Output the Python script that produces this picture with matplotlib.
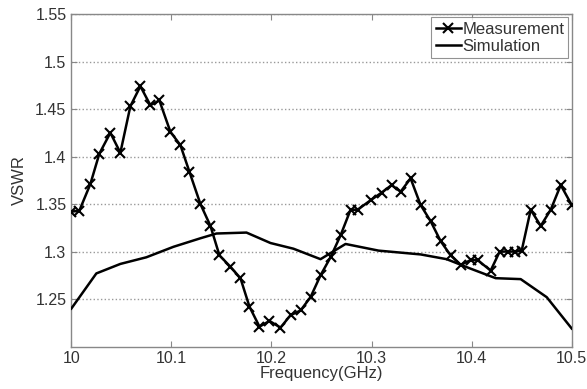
import matplotlib
matplotlib.use("Agg")
import matplotlib.pyplot as plt

plt.rcParams['font.family'] = ['Liberation Sans', 'DejaVu Sans']

meas_f = [10.000, 10.008, 10.019, 10.028, 10.039, 10.049, 10.059, 10.069, 10.079, 10.088,
          10.099, 10.109, 10.118, 10.129, 10.139, 10.148, 10.159, 10.169, 10.178, 10.188,
          10.198, 10.209, 10.219, 10.229, 10.239, 10.249, 10.259, 10.269, 10.279, 10.286,
          10.299, 10.310, 10.320, 10.329, 10.339, 10.349, 10.359, 10.369, 10.379, 10.389,
          10.399, 10.406, 10.419, 10.428, 10.436, 10.443, 10.450, 10.459, 10.469, 10.479,
          10.489, 10.500]
meas_vswr = [1.342, 1.343, 1.371, 1.403, 1.425, 1.404, 1.453, 1.474, 1.454, 1.459,
             1.426, 1.412, 1.384, 1.350, 1.327, 1.296, 1.284, 1.272, 1.242, 1.221,
             1.227, 1.220, 1.233, 1.238, 1.252, 1.275, 1.294, 1.317, 1.344, 1.344,
             1.354, 1.362, 1.370, 1.363, 1.377, 1.349, 1.332, 1.311, 1.296, 1.286,
             1.291, 1.291, 1.280, 1.300, 1.300, 1.300, 1.301, 1.344, 1.327, 1.344,
             1.370, 1.349]

sim_f = [10.000, 10.025, 10.049, 10.075, 10.102, 10.129, 10.145, 10.175, 10.199, 10.222,
         10.249, 10.274, 10.307, 10.349, 10.375, 10.399, 10.424, 10.449, 10.475, 10.500]
sim_vswr = [1.240, 1.277, 1.287, 1.294, 1.305, 1.314, 1.319, 1.320, 1.309, 1.303,
            1.292, 1.308, 1.301, 1.297, 1.292, 1.282, 1.272, 1.271, 1.252, 1.219]

xticks = [10.0, 10.1, 10.2, 10.3, 10.4, 10.5]
xticklabels = ['10', '10.1', '10.2', '10.3', '10.4', '10.5']
yticks = [1.25, 1.3, 1.35, 1.4, 1.45, 1.5, 1.55]
yticklabels = ['1.25', '1.3', '1.35', '1.4', '1.45', '1.5', '1.55']

fig = plt.figure(figsize=(5.87, 3.89), dpi=100)
ax = fig.add_axes([0.1215, 0.109, 0.8525, 0.855])

ax.plot(meas_f, meas_vswr, color='black', lw=1.8, marker='x', ms=7, mew=1.5,
        label='Measurement', zorder=3)
ax.plot(sim_f, sim_vswr, color='black', lw=1.8, label='Simulation', zorder=3)

ax.set_xlim(10.0, 10.5)
ax.set_ylim(1.2, 1.55)
ax.set_xticks(xticks)
ax.set_xticklabels(xticklabels)
ax.set_yticks(yticks)
ax.set_yticklabels(yticklabels)

ax.yaxis.grid(True, linestyle=':', color='#999999', lw=1.0)
ax.set_axisbelow(True)

for s in ax.spines.values():
    s.set_color('#888888')
    s.set_linewidth(1.0)

ax.tick_params(direction='in', top=True, right=True, length=4, color='#888888',
               labelsize=11.5, labelcolor='#333333', width=0.8)

ax.set_xlabel('Frequency(GHz)', fontsize=12, color='#333333', labelpad=0)
ax.set_ylabel('VSWR', fontsize=12, color='#333333', labelpad=6)

leg = ax.legend(loc='upper right', fontsize=12, frameon=True, fancybox=False,
                edgecolor='#777777', borderpad=0.25, handlelength=1.5,
                handletextpad=0.1, labelspacing=0.15, borderaxespad=0.2)
leg.get_frame().set_linewidth(0.8)
for t in leg.get_texts():
    t.set_color('#333333')

fig.savefig('out.png', dpi=100)
